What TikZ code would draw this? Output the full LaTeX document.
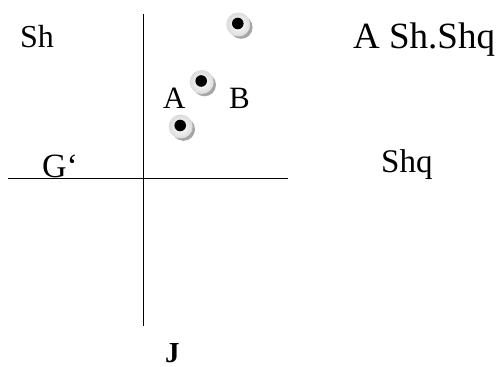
\documentclass[tikz,border=0pt]{standalone}
\usepackage{fontspec}
\setmainfont{Liberation Serif}
\begin{document}
\begin{tikzpicture}[x=1pt,y=-1pt,
  lbl/.style={anchor=base west,inner sep=0pt,text=black},
  axis/.style={line width=1.6pt,black},
  dotshadow/.style={fill=black!35,draw=none},
  dotdisk/.style={inner color=white,outer color=black!14,draw=none},
  dotcore/.style={fill=black,draw=none}]
\useasboundingbox (0,0) rectangle (499,367);
\fill[white] (0,0) rectangle (499,367);
% axes
\coordinate (vt) at (143.5,14);
\coordinate (vb) at (143.5,326);
\coordinate (hl) at (8,178.3);
\coordinate (hr) at (288,178.3);
\draw[axis] (vt) -- (vb);
\draw[axis] (hl) -- (hr);
% labels
\node[lbl,font=\fontsize{32}{32}\selectfont] (sh) at (20,47) {Sh};
\node[lbl,font=\fontsize{37}{37}\selectfont] (ashshq) at (353,48) {A Sh.Shq};
\node[lbl,font=\fontsize{34}{34}\selectfont] (g) at (42,177) {G‘};
\node[lbl,font=\fontsize{33}{33}\selectfont] (shq) at (381,172.3) {Shq};
\node[lbl,font=\fontsize{31}{31}\selectfont] (a) at (163,108.3) {A};
\node[lbl,font=\fontsize{31}{31}\selectfont] (b) at (229,108.3) {B};
\node[lbl,font=\bfseries\fontsize{29}{29}\selectfont] (j) at (165,362) {J};
% points
\foreach \n/\px/\py in {p1/238.3/24.5, p2/201.7/82, p3/180.7/126.5}{
  \coordinate (\n) at (\px,\py);
  \fill[dotshadow] ([shift={(2.8,2.8)}]\n) circle (11.5);
  \shade[dotdisk] (\n) circle (12);
  \fill[dotcore] ([shift={(-0.5,-1)}]\n) circle (5.8);
}
\end{tikzpicture}
\end{document}
